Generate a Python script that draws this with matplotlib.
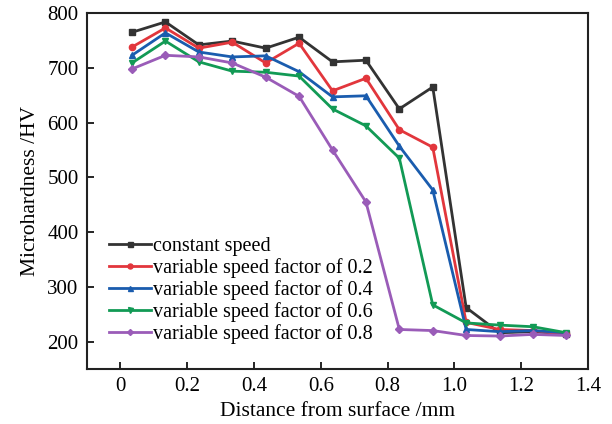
import matplotlib
matplotlib.use("Agg")
import matplotlib.pyplot as plt

# distance from surface (mm)
distance = [0.035, 0.135, 0.235, 0.335, 0.435, 0.535, 0.635,
            0.735, 0.835, 0.935, 1.035, 1.135, 1.235, 1.335]

constant = [765, 784, 742, 749, 736, 756, 711, 714, 625, 665, 262, 216, 218, 214]
factor_02 = [738, 773, 736, 747, 709, 745, 658, 681, 587, 555, 235, 222, 220, 213]
factor_04 = [723, 764, 729, 720, 722, 693, 647, 649, 557, 477, 222, 218, 220, 216]
factor_06 = [709, 749, 711, 694, 692, 685, 625, 594, 535, 267, 234, 230, 227, 216]
factor_08 = [698, 723, 720, 709, 683, 648, 550, 455, 222, 220, 211, 210, 213, 211]

labels = ["constant speed",
          "variable speed factor of 0.2",
          "variable speed factor of 0.4",
          "variable speed factor of 0.6",
          "variable speed factor of 0.8"]
colors = ["#333333", "#e2363c", "#1a5cae", "#129a55", "#9a5cb8"]
markers = ["s", "o", "^", "v", "D"]

plt.rcParams["font.family"] = ["Liberation Serif", "DejaVu Serif"]

fig = plt.figure(figsize=(6.12, 4.24), dpi=100)
ax = fig.add_axes([0.142, 0.130, 0.819, 0.839])

series = [constant, factor_02, factor_04, factor_06, factor_08]
for vals, lab, c, m in zip(series, labels, colors, markers):
    ax.plot(distance, vals, color=c, marker=m, markersize=4.5 if m != "D" else 3.8,
            linewidth=2, label=lab)

ax.set_xlim(-0.1, 1.4)
ax.set_ylim(150, 800)
ax.set_xticks([0, 0.2, 0.4, 0.6, 0.8, 1.0, 1.2, 1.4])
ax.set_xticklabels(["0", "0.2", "0.4", "0.6", "0.8", "1.0", "1.2", "1.4"])
ax.set_yticks([200, 300, 400, 500, 600, 700, 800])
ax.tick_params(direction="in", length=5, width=1.2, labelsize=15, pad=6)
for s in ax.spines.values():
    s.set_linewidth(1.5)
    s.set_color("#222222")

ax.set_xlabel("Distance from surface /mm", fontsize=15.5, labelpad=4)
ax.set_ylabel("Microhardness /HV", fontsize=15.5, labelpad=5)

ax.legend(loc="lower left", bbox_to_anchor=(0.015, 0.03), frameon=False,
          fontsize=14.5, handlelength=2.1, handletextpad=0.12, labelspacing=0.1,
          borderpad=0.2, markerscale=0.8)

fig.savefig("out.png", dpi=100)
